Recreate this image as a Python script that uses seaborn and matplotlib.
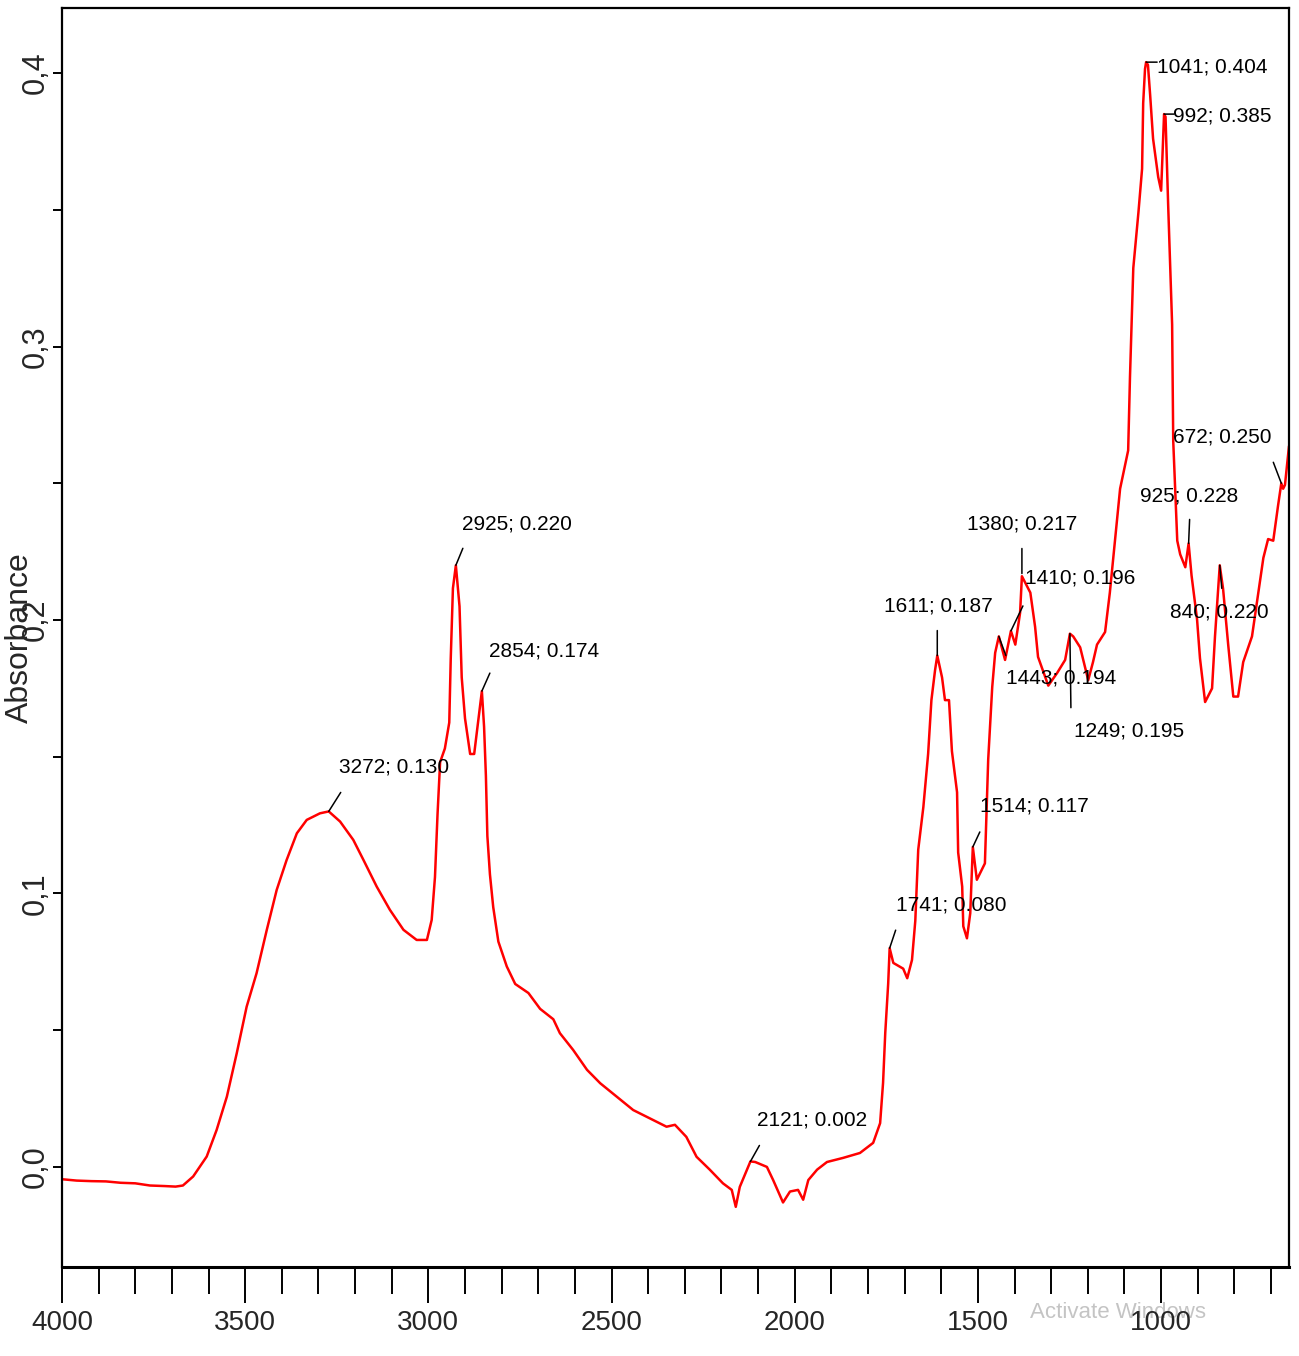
import matplotlib
matplotlib.use("Agg")
import matplotlib.pyplot as plt
import matplotlib.ticker as mticker
import seaborn as sns

# FTIR spectrum (wavenumber in cm-1, absorbance)
wavenumber = [
    4000, 3960, 3920, 3880, 3840, 3800, 3760, 3720, 3690, 3670,
    3642, 3605, 3578, 3550, 3523, 3496, 3469, 3441, 3414, 3387,
    3359, 3332, 3296, 3272, 3241, 3205, 3177, 3141, 3105, 3068,
    3032, 3004, 2991, 2982, 2975, 2968, 2955, 2943, 2939, 2933,
    2925, 2915, 2909, 2900, 2886, 2875, 2866, 2854, 2848, 2843,
    2839, 2832, 2823, 2809, 2786, 2763, 2727, 2695, 2659, 2641,
    2605, 2567, 2531, 2486, 2441, 2387, 2350, 2327, 2296, 2268,
    2232, 2196, 2172, 2161, 2150, 2121, 2108, 2076, 2059, 2032,
    2013, 1991, 1977, 1963, 1939, 1912, 1868, 1822, 1786, 1767,
    1759, 1753, 1745, 1741, 1731, 1704, 1693, 1680, 1671, 1663,
    1649, 1636, 1627, 1617, 1611, 1598, 1590, 1579, 1571, 1557,
    1554, 1543, 1540, 1530, 1521, 1514, 1503, 1481, 1472, 1461,
    1453, 1443, 1426, 1410, 1398, 1385, 1380, 1357, 1344, 1336,
    1308, 1284, 1262, 1249, 1240, 1221, 1199, 1186, 1175, 1153,
    1140, 1126, 1112, 1098, 1090, 1085, 1076, 1062, 1052, 1049,
    1044, 1041, 1036, 1030, 1022, 1008, 1000, 995, 992, 988,
    981, 970, 967, 956, 948, 934, 925, 917, 902, 894,
    880, 861, 853, 840, 831, 817, 803, 790, 776, 752,
    738, 721, 708, 694, 681, 672, 667, 662, 651,
]
absorbance = [
    -0.0045, -0.0050, -0.0052, -0.0053, -0.0058, -0.0060, -0.0068, -0.0070, -0.0072, -0.0068,
    -0.0035, 0.0038, 0.0135, 0.0257, 0.0416, 0.0586, 0.0708, 0.0867, 0.1013, 0.1122,
    0.1220, 0.1269, 0.1293, 0.1300, 0.1263, 0.1196, 0.1122, 0.1025, 0.0940, 0.0867,
    0.0830, 0.0830, 0.0903, 0.1060, 0.1290, 0.1480, 0.1530, 0.1625, 0.1857, 0.2116,
    0.2200, 0.2050, 0.1790, 0.1640, 0.1510, 0.1510, 0.1610, 0.1740, 0.1610, 0.1430,
    0.1210, 0.1070, 0.0950, 0.0824, 0.0733, 0.0669, 0.0636, 0.0578, 0.0540, 0.0489,
    0.0428, 0.0355, 0.0306, 0.0257, 0.0208, 0.0172, 0.0147, 0.0154, 0.0110, 0.0037,
    -0.0010, -0.0060, -0.0084, -0.0146, -0.0073, 0.0020, 0.0018, 0.0000, -0.0048, -0.0130,
    -0.0090, -0.0084, -0.0120, -0.0048, -0.0010, 0.0018, 0.0033, 0.0051, 0.0088, 0.0160,
    0.0307, 0.0490, 0.0670, 0.0800, 0.0746, 0.0725, 0.0690, 0.0757, 0.0900, 0.1160,
    0.1316, 0.1510, 0.1707, 0.1817, 0.1870, 0.1790, 0.1707, 0.1707, 0.1520, 0.1370,
    0.1150, 0.1025, 0.0880, 0.0836, 0.0928, 0.1170, 0.1050, 0.1110, 0.1490, 0.1755,
    0.1880, 0.1940, 0.1854, 0.1960, 0.1910, 0.2026, 0.2160, 0.2100, 0.1975, 0.1865,
    0.1760, 0.1806, 0.1854, 0.1950, 0.1940, 0.1900, 0.1780, 0.1846, 0.1910, 0.1956,
    0.2100, 0.2290, 0.2480, 0.2570, 0.2620, 0.2890, 0.3287, 0.3490, 0.3650, 0.3890,
    0.4015, 0.4040, 0.4030, 0.3920, 0.3760, 0.3620, 0.3570, 0.3745, 0.3850, 0.3840,
    0.3525, 0.3080, 0.2655, 0.2290, 0.2240, 0.2193, 0.2280, 0.2163, 0.2003, 0.1860,
    0.1700, 0.1750, 0.1940, 0.2200, 0.2115, 0.1910, 0.1720, 0.1720, 0.1846, 0.1940,
    0.2070, 0.2227, 0.2296, 0.2290, 0.2417, 0.2500, 0.2480, 0.2494, 0.2636,
]

# labelled peaks
peak_wn = [3272, 2925, 2854, 2121, 1741, 1611, 1514, 1443, 1410, 1380, 1249, 1041, 992, 925, 840, 672]
peak_abs = [0.130, 0.220, 0.174, 0.002, 0.080, 0.187, 0.117, 0.194, 0.196, 0.217, 0.195,
            0.404, 0.385, 0.228, 0.220, 0.250]

# label layout in pixels relative to the peak: leader line end, text anchor, alignment
line_off = [(12, 19), (7, 17), (8, 18), (9, 16), (6, 18), (0, 25), (7, 15), (7, -19),
            (12, 25), (0, 25), (1, -74), (11, 0), (10, 0), (1, 24), (2, -23), (-8, 21)]
text_off = [(10, 44), (6, 41), (7, 40), (7, 41), (6, 43), (1, 50), (7, 41), (7, -42),
            (14, 53), (0, 50), (4, -97), (11, -5), (9, -2), (1, 47), (0, -47), (-10, 46)]
text_ha = ["left", "left", "left", "left", "left", "center", "left", "left",
           "left", "center", "left", "left", "left", "center", "center", "right"]

sns.set_style("white")
plt.rcParams["font.family"] = ["Liberation Sans", "DejaVu Sans"]

fig = plt.figure(figsize=(12.99, 13.56), dpi=100)
ax = fig.add_axes([62 / 1299, 1 - 1267 / 1356, 1227 / 1299, 1259 / 1356])

sns.lineplot(x=wavenumber, y=absorbance, color="#ff0000", linewidth=1.8,
             ax=ax, sort=False, estimator=None)

ax.set_xlim(4000, 651)
ax.set_ylim(-0.0366, 0.4238)

ax.xaxis.set_major_locator(mticker.MultipleLocator(500))
ax.xaxis.set_minor_locator(mticker.MultipleLocator(100))
ax.yaxis.set_major_locator(mticker.MultipleLocator(0.1))
ax.yaxis.set_minor_locator(mticker.MultipleLocator(0.05))
ax.yaxis.set_major_formatter(mticker.FuncFormatter(
    lambda v, p: f"{abs(v) if abs(v) < 1e-9 else v:.1f}".replace(".", ",")))

ax.tick_params(axis="x", which="both", bottom=True, direction="out", width=1.4, color="black")
ax.tick_params(axis="x", which="major", length=26, pad=5, labelsize=20)
ax.tick_params(axis="x", which="minor", length=19.5)
ax.tick_params(axis="y", which="both", left=True, direction="out", length=6.5, width=1.4,
               pad=1.5, color="black")
ax.tick_params(axis="y", labelrotation=90, labelsize=22)
for t in ax.get_yticklabels():
    t.set_va("center")

ax.set_xlabel("")
ax.set_ylabel("Absorbance", fontsize=23)
ax.yaxis.set_label_coords(-0.022, 0.5)

for s in ax.spines.values():
    s.set_linewidth(1.6)
    s.set_color("black")
ax.spines["bottom"].set_linewidth(2.2)

for i in range(len(peak_wn)):
    label = f"{peak_wn[i]}; {peak_abs[i]:.3f}"
    ax.annotate("", xy=(peak_wn[i], peak_abs[i]), xytext=line_off[i],
                textcoords="offset pixels",
                arrowprops=dict(arrowstyle="-", color="black", lw=1.1,
                                shrinkA=0, shrinkB=0))
    ax.annotate(label, xy=(peak_wn[i], peak_abs[i]), xytext=text_off[i],
                textcoords="offset pixels", ha=text_ha[i], va="center",
                fontsize=15, color="black")

# screenshot watermark visible in the reference
fig.text(1030 / 1299, 1 - 1313 / 1356, "Activate Windows", color="#c4c4c4",
         fontsize=16, ha="left", va="center", zorder=-1)

fig.savefig("out.png", dpi=100)
plt.close(fig)
